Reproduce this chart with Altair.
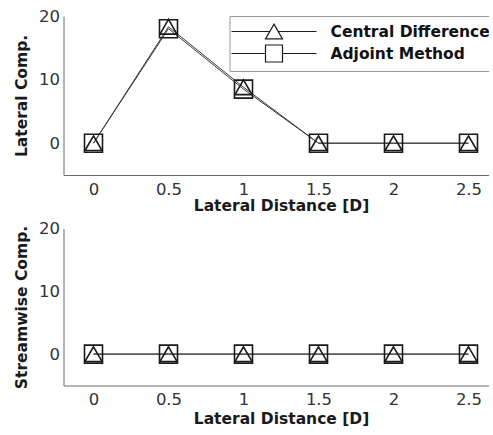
import altair as alt
import pandas as pd

# ---- data ----
x_vals = [0, 0.5, 1, 1.5, 2, 2.5]
series_names = ["Central Difference", "Adjoint Method"]
lateral_cd = [0, 18.3, 8.8, 0, 0, 0]
lateral_adj = [0, 18.0, 8.5, 0, 0, 0]
stream_cd = [0, 0, 0, 0, 0, 0]
stream_adj = [0, 0, 0, 0, 0, 0]
x_ticks = [0, 0.5, 1, 1.5, 2, 2.5]
y_ticks = [0, 10, 20]

FONT = "DejaVu Sans"
# legend symbols: marker with a line through (line stops at marker edge)
tri_path = "M-5,0L-0.5,0M0.5,0L5,0M0,-0.866L1,0.866L-1,0.866Z"
sq_path = "M-5,0L-1,0M1,0L5,0M-1,-1L1,-1L1,1L-1,1Z"


def frame(cd, adj):
    rows = []
    for xv, a, b in zip(x_vals, cd, adj):
        rows.append({"x": xv, "v": a, "series": series_names[0]})
        rows.append({"x": xv, "v": b, "series": series_names[1]})
    return pd.DataFrame(rows)


def panel(df, ytitle, with_legend, h, xtp):
    base = alt.Chart(df)
    xenc = alt.X("x:Q", scale=alt.Scale(domain=[-0.2, 2.7], nice=False, zero=False),
                 axis=alt.Axis(values=x_ticks, format="~g", title="Lateral Distance [D]",
                               labelPadding=6, titlePadding=xtp))
    yenc = alt.Y("v:Q", scale=alt.Scale(domain=[-5, 20], nice=False),
                 axis=alt.Axis(values=y_ticks, title=ytitle, labelPadding=4, titlePadding=9))
    line = base.mark_line(color="#3a3a3a", strokeWidth=1).encode(
        x=xenc, y=yenc, detail="series:N")
    tri = base.transform_filter(alt.datum.series == series_names[0]).mark_point(
        shape="triangle-up", size=289, filled=False, color="#1a1a1a",
        strokeWidth=1.6, opacity=1).encode(x=xenc, y=yenc)
    sq = base.transform_filter(alt.datum.series == series_names[1]).mark_point(
        shape="square", size=324, filled=False, color="#1a1a1a",
        strokeWidth=1.6, opacity=1).encode(x=xenc, y=yenc)
    layers = [line, tri, sq]
    if with_legend:
        leg = base.transform_filter("false").mark_point(
            filled=False, color="#1a1a1a", opacity=1).encode(
            x=xenc, y=yenc,
            shape=alt.Shape("series:N",
                            scale=alt.Scale(domain=series_names, range=[tri_path, sq_path]),
                            legend=alt.Legend(
                                title=None, orient="none", legendX=166, legendY=0,
                                symbolSize=289, symbolStrokeWidth=1.2,
                                symbolStrokeColor="#1a1a1a", symbolFillColor="transparent",
                                symbolOffset=29, labelOffset=47,
                                labelFont=FONT, labelFontSize=15.5, labelFontWeight="bold",
                                labelColor="#111111", labelLimit=0,
                                padding=6, rowPadding=0,
                                strokeColor="#9a9a9a", fillColor="white")))
        layers.append(leg)
    return alt.layer(*layers).properties(width=435, height=h)


top = panel(frame(lateral_cd, lateral_adj), "Lateral Comp.", True, 159, 1)
bottom = panel(frame(stream_cd, stream_adj), "Streamwise Comp.", False, 157, 3)

chart = alt.vconcat(top, bottom, spacing=6.5).properties(
    padding={"left": 14.5, "top": 8, "right": -9.5, "bottom": 2}
).configure_view(stroke=None).configure_axis(
    labelFont=FONT, labelFontSize=16.5, labelColor="#333333",
    titleFont=FONT, titleFontSize=15.5, titleFontWeight="bold", titleColor="#1a1a1a",
    domainColor="#6b6b6b", ticks=False, grid=False
)

chart.save("out.html", embed_options={"renderer": "svg", "actions": False})
